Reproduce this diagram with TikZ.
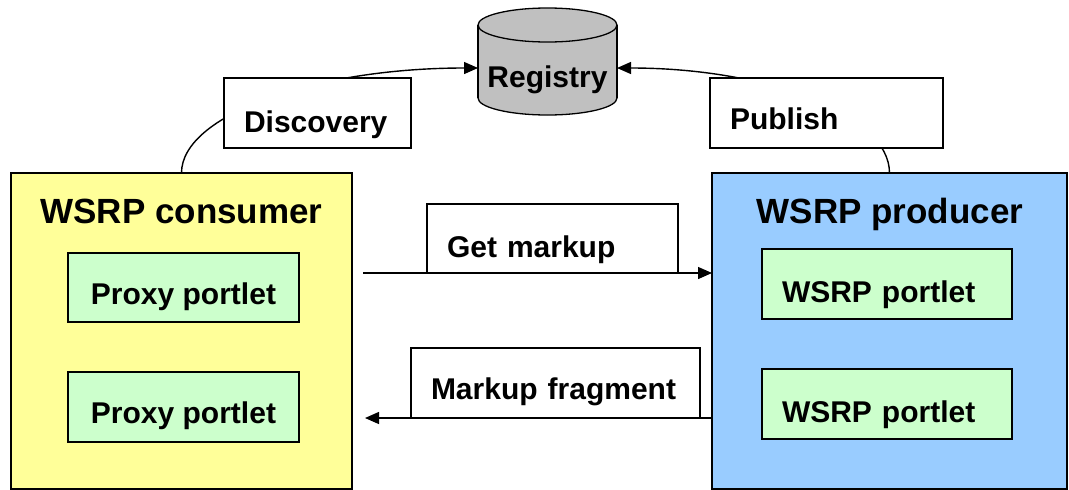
\documentclass[tikz,border=0pt]{standalone}
\usepackage{fontspec}
\setmainfont{Liberation Sans}
\usetikzlibrary{arrows.meta}
\definecolor{consumerfill}{HTML}{FFFF99}
\definecolor{producerfill}{HTML}{99CCFF}
\definecolor{portletfill}{HTML}{CCFFCC}
\definecolor{regfill}{HTML}{C0C0C0}
\begin{document}
\begin{tikzpicture}[x=1pt,y=-1pt, line width=1.3pt,
  every node/.style={inner sep=0pt, outer sep=0pt},
  txt/.style={font=\fontsize{30}{36}\selectfont\bfseries, text depth=0pt},
  ttl/.style={font=\fontsize{35}{42}\selectfont\bfseries},
  container/.style={draw, line width=1.5pt, minimum height=316pt},
  portlet/.style={txt, draw, fill=portletfill},
  labelbox/.style={txt, draw, fill=white, align=left, inner xsep=20pt},
  arr/.style={line width=1.4pt, -{Triangle[length=14pt,width=12pt]}},
]
\useasboundingbox (0,0) rectangle (1069,490);

% containers
\node[container, fill=consumerfill, minimum width=341pt] (cons) at (181.5,331) {};
\node[container, fill=producerfill, minimum width=355pt] (prod) at (889.5,331) {};
\node[ttl, anchor=base] (constitle) at (181.5,223) {WSRP consumer};
\node[ttl, anchor=base] (prodtitle) at (890,223) {WSRP producer};

% portlets
\node[portlet, minimum width=231pt, minimum height=69pt, text height=33pt] (px1) at (183.5,287.5) {Proxy portlet};
\node[portlet, minimum width=231pt, minimum height=70pt, text height=33pt] (px2) at (183.5,407) {Proxy portlet};
\node[portlet, align=left, text width=210pt, inner xsep=20pt, minimum height=70pt, text height=37pt] (wp1) at (887,284) {WSRP portlet};
\node[portlet, align=left, text width=210pt, inner xsep=20pt, minimum height=70pt, text height=37pt] (wp2) at (887,404) {WSRP portlet};

% registry cylinder
\fill[regfill] (478,25) rectangle (617,98);
\fill[regfill] (547.5,98) ellipse [x radius=69.5pt, y radius=17pt];
\begin{scope}
  \clip (470,98) rectangle (625,125);
  \draw (547.5,98) ellipse [x radius=69.5pt, y radius=17pt];
\end{scope}
\draw (478,25) -- (478,98) (617,25) -- (617,98);
\draw[fill=regfill] (547.5,25) ellipse [x radius=69.5pt, y radius=17pt];
\node[txt, text height=39pt, minimum width=139pt] (reg) at (547.5,68) {Registry};

% connectors
\draw[arr] (cons.north) .. controls +(0,-58) and +(-163.5,0) .. (reg.west);
\draw[arr] (prod.north) .. controls +(0,-58.5) and +(151,0) .. (reg.east);
\coordinate (gmstart) at (363,273);
\draw[arr] (gmstart) -- (gmstart -| prod.west);
\coordinate (mfend) at (365,418);
\draw[arr] (mfend -| prod.west) -- (mfend);

% labels
\node[labelbox, text width=147pt, minimum height=70pt, text height=38pt] (disc) at (317.5,113) {Discovery};
\node[labelbox, text width=193pt, minimum height=70pt, text height=33pt] (pub) at (826.5,113) {Publish};
\node[labelbox, text width=211pt, minimum height=69pt, text height=38pt] (gm) at (552.5,238.5) {Get markup};
\node[labelbox, text width=249pt, minimum height=70pt, text height=33pt] (mf) at (555.5,383) {Markup fragment};
\end{tikzpicture}
\end{document}
